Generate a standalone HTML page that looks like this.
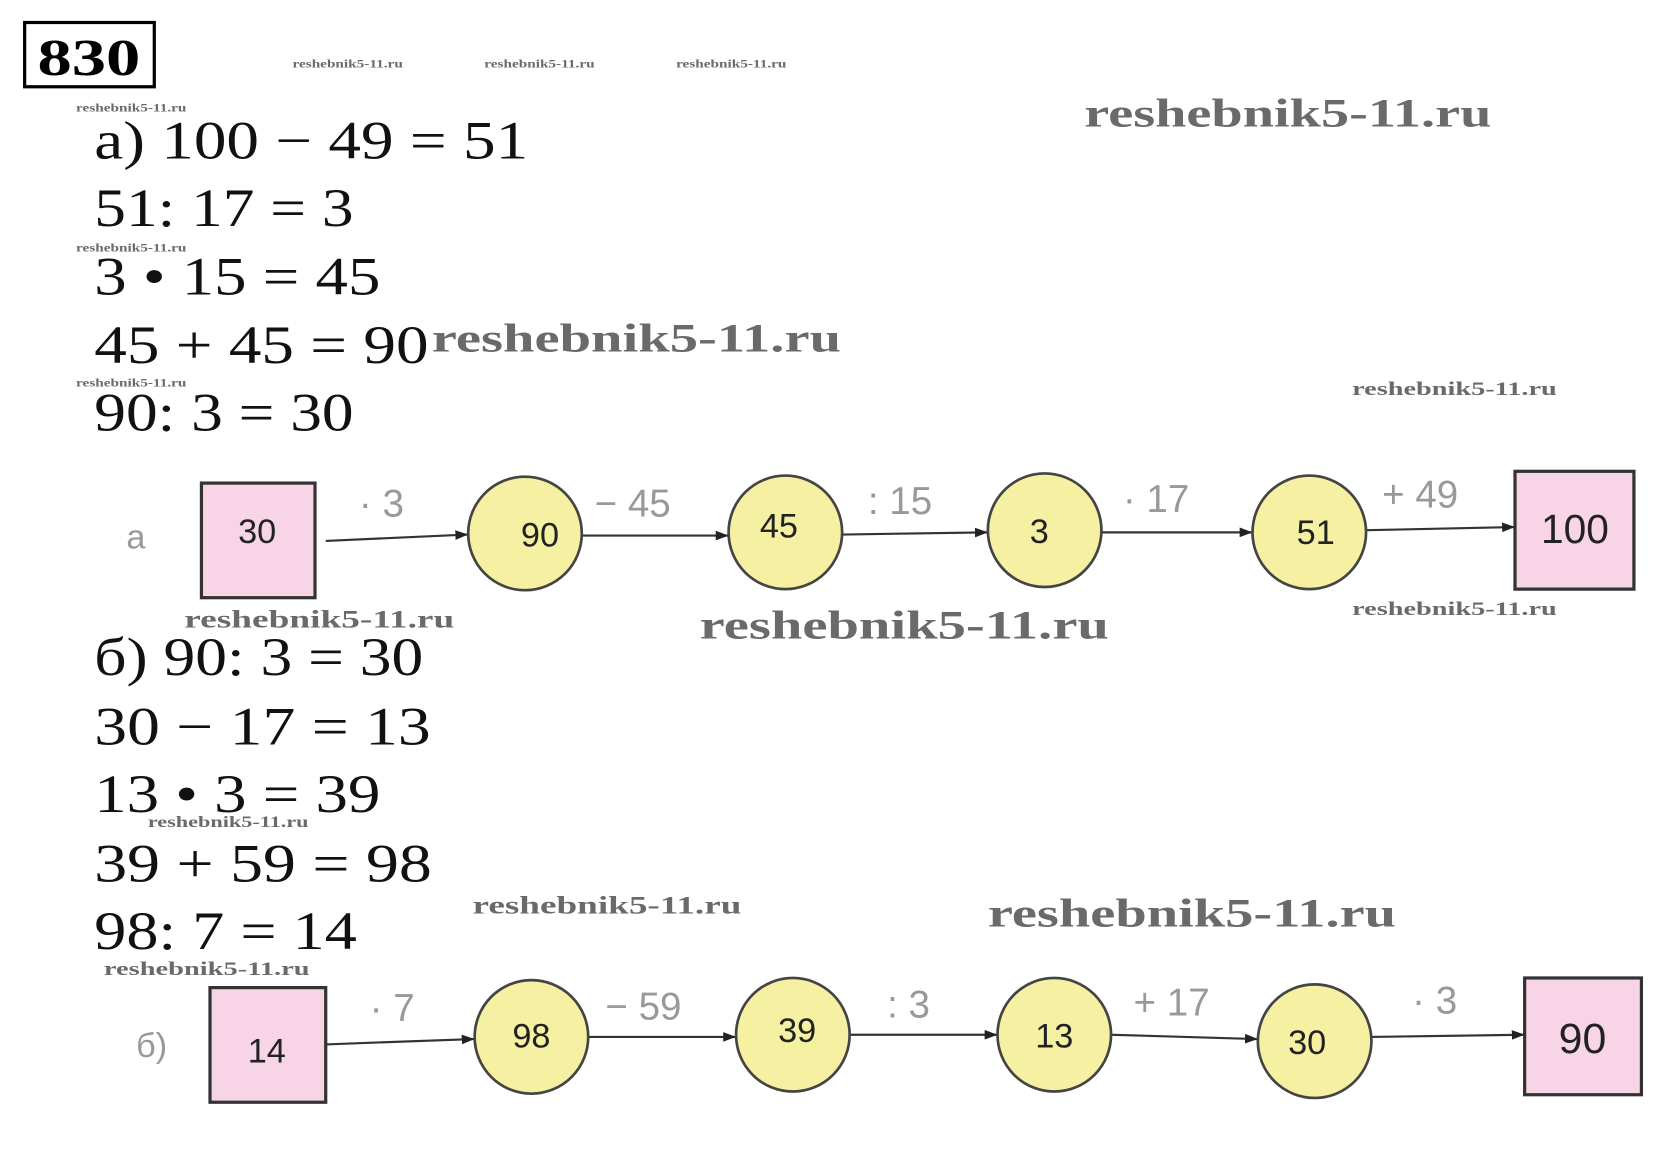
<!DOCTYPE html>
<html><head><meta charset="utf-8"><style>html,body{margin:0;padding:0;background:#fff}svg{display:block}</style></head>
<body>
<svg width="1680" height="1159" viewBox="0 0 1568 1082" preserveAspectRatio="none" xmlns="http://www.w3.org/2000/svg">
<rect width="1600" height="1100" fill="#fff"/>
<rect x="23" y="21" width="121" height="60" fill="none" stroke="#000" stroke-width="3"/>
<text x="83" y="70" text-anchor="middle" font-family="Liberation Serif,serif" font-weight="bold" font-size="48" textLength="96" lengthAdjust="spacingAndGlyphs">830</text>
<g font-family="Liberation Serif,serif" font-weight="bold" fill="#6a6a6a">
<text x="273" y="63" font-size="11" textLength="103" lengthAdjust="spacingAndGlyphs">reshebnik5-11.ru</text>
<text x="452" y="63" font-size="11" textLength="103" lengthAdjust="spacingAndGlyphs">reshebnik5-11.ru</text>
<text x="631" y="63" font-size="11" textLength="103" lengthAdjust="spacingAndGlyphs">reshebnik5-11.ru</text>
<text x="71" y="104" font-size="11" textLength="103" lengthAdjust="spacingAndGlyphs">reshebnik5-11.ru</text>
<text x="71" y="235" font-size="11" textLength="103" lengthAdjust="spacingAndGlyphs">reshebnik5-11.ru</text>
<text x="71" y="361" font-size="11" textLength="103" lengthAdjust="spacingAndGlyphs">reshebnik5-11.ru</text>
<text x="138" y="772" font-size="15" textLength="150" lengthAdjust="spacingAndGlyphs">reshebnik5-11.ru</text>
<text x="97" y="910" font-size="18" textLength="192" lengthAdjust="spacingAndGlyphs">reshebnik5-11.ru</text>
<text x="1262" y="369" font-size="18" textLength="191" lengthAdjust="spacingAndGlyphs">reshebnik5-11.ru</text>
<text x="1262" y="574" font-size="18" textLength="191" lengthAdjust="spacingAndGlyphs">reshebnik5-11.ru</text>
<text x="172" y="586" font-size="24" textLength="252" lengthAdjust="spacingAndGlyphs">reshebnik5-11.ru</text>
<text x="441" y="853" font-size="24" textLength="251" lengthAdjust="spacingAndGlyphs">reshebnik5-11.ru</text>
<text x="1012" y="118" font-size="38" textLength="380" lengthAdjust="spacingAndGlyphs">reshebnik5-11.ru</text>
<text x="403" y="328" font-size="38" textLength="382" lengthAdjust="spacingAndGlyphs">reshebnik5-11.ru</text>
<text x="653" y="596" font-size="38" textLength="382" lengthAdjust="spacingAndGlyphs">reshebnik5-11.ru</text>
<text x="922" y="865" font-size="38" textLength="381" lengthAdjust="spacingAndGlyphs">reshebnik5-11.ru</text>
</g>
<g font-family="Liberation Serif,serif" font-size="50" fill="#111">
<text x="88" y="148" textLength="405" lengthAdjust="spacingAndGlyphs">а) 100 − 49 = 51</text>
<text x="88" y="211" textLength="242" lengthAdjust="spacingAndGlyphs">51: 17 = 3</text>
<text x="88" y="275" textLength="267" lengthAdjust="spacingAndGlyphs">3 • 15 = 45</text>
<text x="88" y="339" textLength="312" lengthAdjust="spacingAndGlyphs">45 + 45 = 90</text>
<text x="88" y="402" textLength="242" lengthAdjust="spacingAndGlyphs">90: 3 = 30</text>
<text x="88" y="630" textLength="307" lengthAdjust="spacingAndGlyphs">б) 90: 3 = 30</text>
<text x="88" y="695" textLength="314" lengthAdjust="spacingAndGlyphs">30 − 17 = 13</text>
<text x="88" y="758" textLength="267" lengthAdjust="spacingAndGlyphs">13 • 3 = 39</text>
<text x="88" y="823" textLength="315" lengthAdjust="spacingAndGlyphs">39 + 59 = 98</text>
<text x="88" y="886" textLength="245" lengthAdjust="spacingAndGlyphs">98: 7 = 14</text>
</g>
<defs><marker id="ar" markerWidth="12" markerHeight="9" refX="11" refY="4.5" orient="auto" markerUnits="userSpaceOnUse"><path d="M0,0 L12,4.5 L0,9 z" fill="#222"/></marker></defs>
<g stroke="#333" stroke-width="2" marker-end="url(#ar)">
<line x1="304" y1="505" x2="436" y2="499"/>
<line x1="543" y1="500" x2="679" y2="500"/>
<line x1="786" y1="499" x2="921" y2="497"/>
<line x1="1028" y1="497" x2="1168" y2="497"/>
<line x1="1275" y1="495" x2="1413" y2="492"/>
<line x1="304" y1="975" x2="442" y2="970"/>
<line x1="549" y1="968" x2="686" y2="968"/>
<line x1="792" y1="966" x2="930" y2="966"/>
<line x1="1036" y1="966" x2="1173" y2="970"/>
<line x1="1280" y1="968" x2="1422" y2="966"/>
</g>
<g fill="#f7d4e6" stroke="#333" stroke-width="3">
<rect x="188" y="451" width="106" height="107"/>
<rect x="1414" y="440" width="111" height="110"/>
<rect x="196" y="922" width="108" height="107"/>
<rect x="1423" y="913" width="109" height="109"/>
</g>
<g fill="#f5f0a2" stroke="#444" stroke-width="2.5">
<ellipse cx="490" cy="498" rx="53" ry="53"/>
<ellipse cx="733" cy="497" rx="53" ry="53"/>
<ellipse cx="975" cy="495" rx="53" ry="53"/>
<ellipse cx="1222" cy="497" rx="53" ry="53"/>
<ellipse cx="496" cy="968" rx="53" ry="53"/>
<ellipse cx="740" cy="966" rx="53" ry="53"/>
<ellipse cx="984" cy="966" rx="53" ry="53"/>
<ellipse cx="1227" cy="972" rx="53" ry="53"/>
</g>
<g font-family="Liberation Sans,sans-serif" font-size="32" fill="#222" text-anchor="middle">
<text x="240" y="507">30</text>
<text x="504" y="510">90</text>
<text x="727" y="502">45</text>
<text x="970" y="507">3</text>
<text x="1228" y="508">51</text>
<text x="1470" y="507" font-size="38">100</text>
<text x="249" y="992">14</text>
<text x="496" y="978">98</text>
<text x="744" y="973">39</text>
<text x="984" y="978">13</text>
<text x="1220" y="984">30</text>
<text x="1477" y="983" font-size="40">90</text>
</g>
<g font-family="Liberation Sans,sans-serif" font-size="36" fill="#999">
<text x="118" y="512" font-size="32">а</text>
<text x="127" y="987" font-size="32">б)</text>
<text x="335" y="482">· 3</text>
<text x="555" y="482">− 45</text>
<text x="810" y="480">: 15</text>
<text x="1048" y="478">· 17</text>
<text x="1290" y="474">+ 49</text>
<text x="345" y="953">· 7</text>
<text x="565" y="952">− 59</text>
<text x="828" y="950">: 3</text>
<text x="1058" y="948">+ 17</text>
<text x="1318" y="946">· 3</text>
</g>
</svg>
</body></html>
